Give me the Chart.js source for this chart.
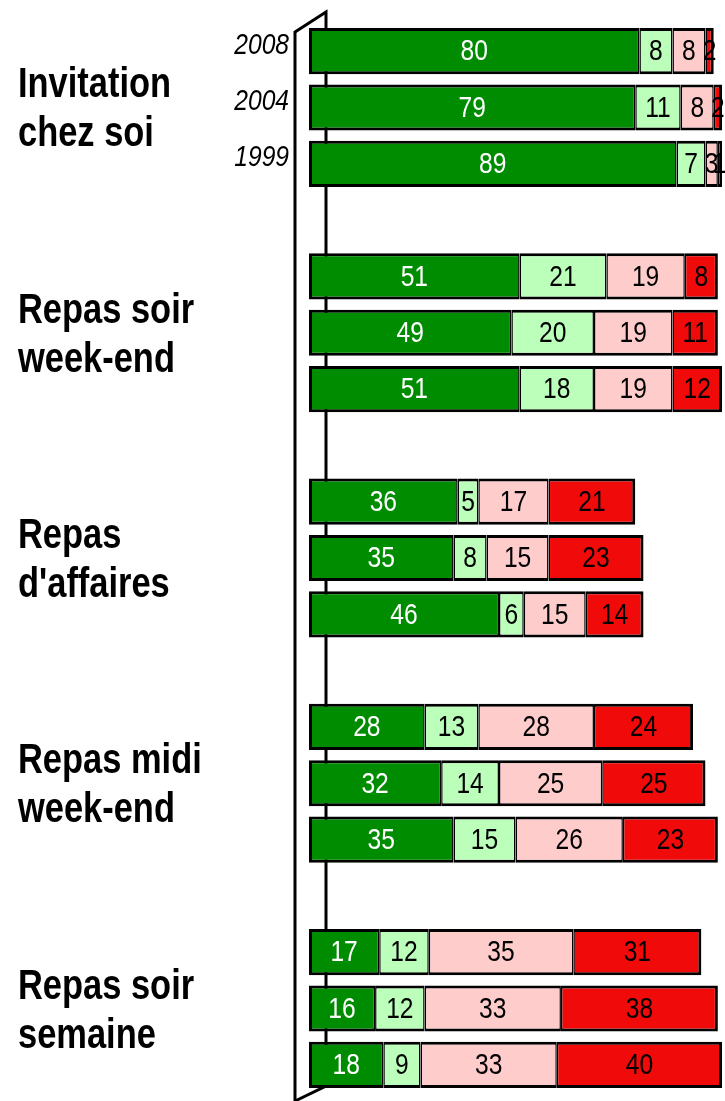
<!DOCTYPE html>
<html>
<head>
<meta charset="utf-8">
<script src="https://cdn.jsdelivr.net/npm/chart.js@4"></script>
<style>
	html, body { margin: 0; padding: 0; background: #fff; }
	#wrap { width: 725px; height: 1101px; position: relative; }
</style>
</head>
<body>
<div id="wrap"><canvas id="chart"></canvas></div>
<script>
const groups = [
	["Invitation", "chez soi"],
	["Repas soir", "week-end"],
	["Repas", "d'affaires"],
	["Repas midi", "week-end"],
	["Repas soir", "semaine"],
];
const years = ["2008", "2004", "1999"];
// one value per bar: group by group, years 2008, 2004, 1999
const s1 = [80, 79, 89, 51, 49, 51, 36, 35, 46, 28, 32, 35, 17, 16, 18];
const s2 = [8, 11, 7, 21, 20, 18, 5, 8, 6, 13, 14, 15, 12, 12, 9];
const s3 = [8, 8, 3, 19, 19, 19, 17, 15, 15, 28, 25, 26, 35, 33, 33];
const s4 = [2, 2, 1, 8, 11, 12, 21, 23, 14, 24, 25, 23, 31, 38, 40];
const colors = ["#008c00", "#bbffbb", "#ffcccc", "#f00a0a"];
const textColors = ["#fff", "#000", "#000", "#000"];

const font = '"Liberation Sans", Arial, sans-serif';
const squeeze = 0.82; // no narrow font installed, so squeeze Liberation Sans
const slotCount = groups.length * 4 - 1;

// put each bar in its slot, leaving an empty slot between groups
function toSlots(arr) {
	const out = new Array(slotCount).fill(null);
	arr.forEach((v, k) => {
		out[Math.floor(k / 3) * 4 + (k % 3)] = v;
	});
	return out;
}
const labels = toSlots(groups.flatMap(() => years)).map((l) => l || "");

function narrowText(ctx, text, x, y) {
	ctx.save();
	ctx.translate(x, y);
	ctx.scale(squeeze, 1);
	ctx.fillText(text, 0, 0);
	ctx.restore();
}

const wallPlugin = {
	id: "wall",
	beforeDatasetsDraw(chart) {
		const ctx = chart.ctx;
		const L = chart.chartArea.left;
		ctx.save();
		ctx.strokeStyle = "#000";
		ctx.lineWidth = 3;
		ctx.beginPath();
		ctx.moveTo(L - 14, 32);
		ctx.lineTo(L + 17, 12);
		ctx.lineTo(L + 17, 1086);
		ctx.lineTo(L - 14, chart.height);
		ctx.stroke();
		ctx.restore();
	},
	afterDraw(chart) {
		const ctx = chart.ctx;
		const L = chart.chartArea.left;
		ctx.save();
		ctx.strokeStyle = "#000";
		ctx.lineWidth = 3;
		ctx.beginPath();
		ctx.moveTo(L - 14, 31);
		ctx.lineTo(L - 14, chart.height);
		ctx.stroke();
		ctx.restore();
	},
};

const textPlugin = {
	id: "texts",
	afterDatasetsDraw(chart) {
		const ctx = chart.ctx;
		const yScale = chart.scales.y;
		const L = chart.chartArea.left;
		ctx.save();
		// values inside the segments
		ctx.font = "30px " + font;
		ctx.textAlign = "center";
		ctx.textBaseline = "middle";
		chart.data.datasets.forEach((ds, i) => {
			const meta = chart.getDatasetMeta(i);
			meta.data.forEach((bar, k) => {
				const v = ds.data[k];
				if (v == null) return;
				const { x, y, base } = bar.getProps(["x", "y", "base"], true);
				ctx.fillStyle = textColors[i];
				narrowText(ctx, String(v), (x + base) / 2, y + 1);
			});
		});
		// years, only on the first group
		ctx.fillStyle = "#000";
		ctx.font = "italic 30px " + font;
		ctx.textAlign = "right";
		years.forEach((yr, j) => {
			narrowText(ctx, yr, L - 20, yScale.getPixelForValue(j) - 6);
		});
		// group names
		ctx.font = "bold 42px " + font;
		ctx.textAlign = "left";
		ctx.textBaseline = "alphabetic";
		groups.forEach((lines, g) => {
			const yc = yScale.getPixelForValue(g * 4 + 1);
			narrowText(ctx, lines[0], 18, yc - 10);
			narrowText(ctx, lines[1], 18, yc + 39);
		});
		ctx.restore();
	},
};

const series = [s1, s2, s3, s4];
new Chart(document.getElementById("chart"), {
	type: "bar",
	data: {
		labels: labels,
		datasets: series.map((s, i) => ({
			label: "s" + (i + 1),
			data: toSlots(s),
			backgroundColor: colors[i],
			borderColor: "#000",
			borderWidth: { top: 3, bottom: 3, left: i === 0 ? 3 : 1.5, right: i === 3 ? 3 : 1.5 },
			borderSkipped: false,
			barPercentage: 0.82,
			categoryPercentage: 1,
		})),
	},
	options: {
		indexAxis: "y",
		responsive: true,
		maintainAspectRatio: false,
		animation: false,
		layout: { padding: { left: 309, right: 3, top: 23, bottom: 8 } },
		scales: {
			x: { stacked: true, min: 0, max: 100, display: false },
			y: { stacked: true, display: false },
		},
		plugins: {
			legend: { display: false },
			tooltip: { enabled: false },
		},
	},
	plugins: [wallPlugin, textPlugin],
});
</script>
</body>
</html>
